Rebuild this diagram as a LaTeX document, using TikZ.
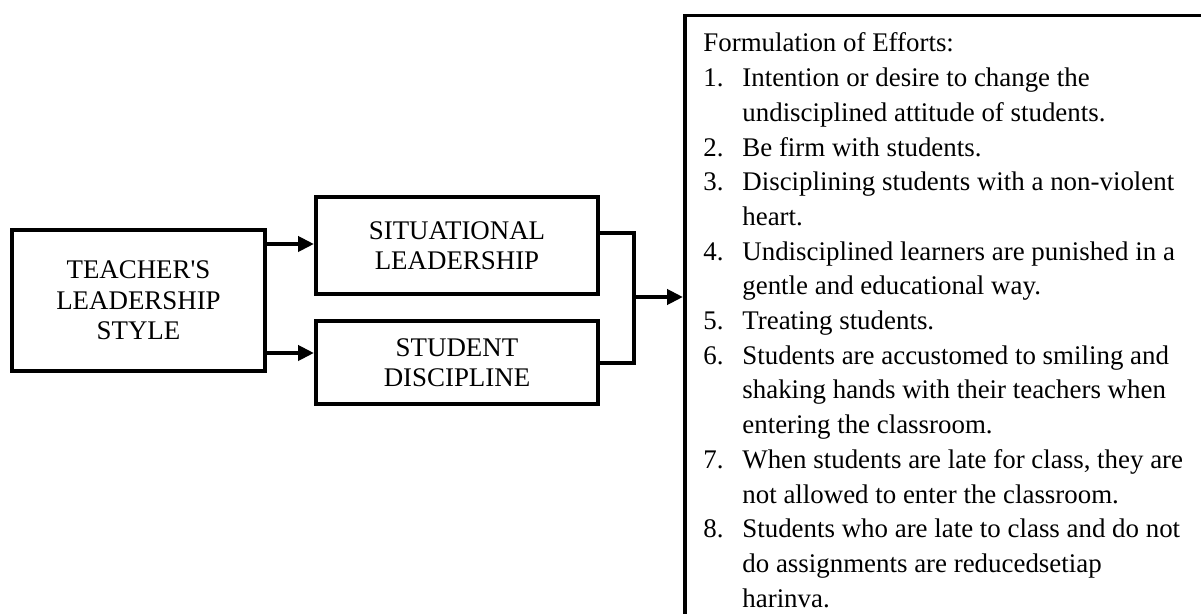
\documentclass[tikz,border=0pt]{standalone}
\usepackage{fontspec}
\setmainfont{Liberation Serif}
\usetikzlibrary{arrows.meta}
\newcommand\myfs{\fontsize{13.45}{15.25}\selectfont}
\tikzset{
  box/.style={draw, line width=2pt, align=center, font=\myfs, inner sep=0pt},
  conn/.style={line width=2pt},
  arr/.style={line width=2pt, -{Triangle[length=8pt,width=7.5pt]}},
  lbl/.style={anchor=base west, inner sep=0pt, font=\myfs},
}
\begin{document}
\begin{tikzpicture}[x=0.5pt, y=-0.5pt]
\useasboundingbox (0,0) rectangle (1201,614);
\clip (0,0) rectangle (1201,614);
\fill[white] (0,0) rectangle (1201,614);

\node[box, minimum width=126.5pt, minimum height=70.5pt] (teacher) at (138.5,300.5) {TEACHER\textquotesingle S\\LEADERSHIP\\STYLE};
\node[box, minimum width=141pt, minimum height=48.5pt] (sit) at (457,245.5) {SITUATIONAL\\LEADERSHIP};
\node[box, minimum width=141pt, minimum height=41.5pt] (stud) at (457,362.5) {STUDENT\\DISCIPLINE};
\node[draw, line width=1.75pt, anchor=north west, minimum width=320pt, minimum height=340pt, inner sep=0pt] (eff) at (683,14) {};

\coordinate (a1) at (0,244);
\coordinate (a2) at (0,353);
\draw[arr] (teacher.east |- a1) -- (sit.west |- a1);
\draw[arr] (teacher.east |- a2) -- (stud.west |- a2);

\coordinate (bt) at (634,233);
\coordinate (bb) at (634,363);
\coordinate (bm) at (634,297);
\draw[conn] (sit.east |- bt) -- (bt) -- (bb) -- (stud.east |- bb);
\draw[arr] (bm) -- (eff.west |- bm);

\node[lbl] (l0) at (703,52) {Formulation of Efforts:};
\node[lbl] (n1) at (703,86.7) {1.};
\node[lbl] (l1) at (742,86.7) {Intention or desire to change the};
\node[lbl] (l2) at (742,121.4) {undisciplined attitude of students.};
\node[lbl] (n2) at (703,156.1) {2.};
\node[lbl] (l3) at (742,156.1) {Be firm with students.};
\node[lbl] (n3) at (703,190.8) {3.};
\node[lbl] (l4) at (742,190.8) {Disciplining students with a non-violent};
\node[lbl] (l5) at (742,225.5) {heart.};
\node[lbl] (n4) at (703,260.2) {4.};
\node[lbl] (l6) at (742,260.2) {Undisciplined learners are punished in a};
\node[lbl] (l7) at (742,294.9) {gentle and educational way.};
\node[lbl] (n5) at (703,329.6) {5.};
\node[lbl] (l8) at (742,329.6) {Treating students.};
\node[lbl] (n6) at (703,364.3) {6.};
\node[lbl] (l9) at (742,364.3) {Students are accustomed to smiling and};
\node[lbl] (l10) at (742,399) {shaking hands with their teachers when};
\node[lbl] (l11) at (742,433.7) {entering the classroom.};
\node[lbl] (n7) at (703,468.4) {7.};
\node[lbl] (l12) at (742,468.4) {When students are late for class, they are};
\node[lbl] (l13) at (742,503.1) {not allowed to enter the classroom.};
\node[lbl] (n8) at (703,537.8) {8.};
\node[lbl] (l14) at (742,537.8) {Students who are late to class and do not};
\node[lbl] (l15) at (742,572.5) {do assignments are reducedsetiap};
\node[lbl] (l16) at (742,607.2) {harinva.};
\end{tikzpicture}
\end{document}
